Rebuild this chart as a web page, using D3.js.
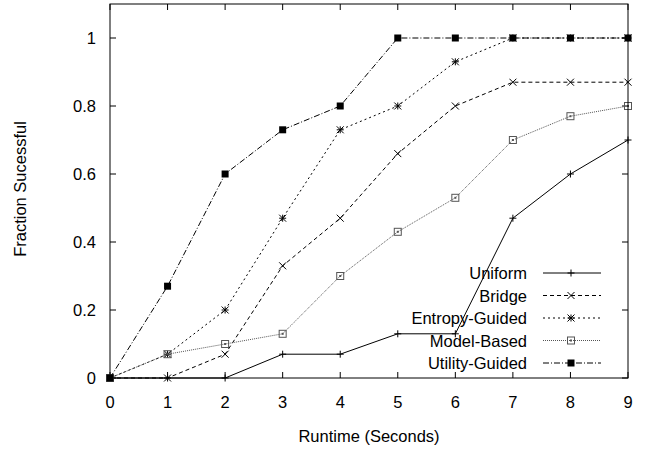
<!DOCTYPE html>
<html><head><meta charset="utf-8">
<script src="https://cdn.jsdelivr.net/npm/d3@7"></script>
<style>body{margin:0;background:#fff}svg{display:block}text{font-family:"Liberation Sans",Arial,sans-serif;fill:#000}</style>
</head><body><svg id="c" width="645" height="450"></svg>
<script>
const xValues = [0,1,2,3,4,5,6,7,8,9];
const seriesNames = ["Uniform","Bridge","Entropy-Guided","Model-Based","Utility-Guided"];
const uniform = [0,0,0,0.07,0.07,0.13,0.13,0.47,0.6,0.7];
const bridge = [0,0,0.07,0.33,0.47,0.66,0.8,0.87,0.87,0.87];
const entropy = [0,0.07,0.2,0.47,0.73,0.8,0.93,1,1,1];
const modelBased = [0,0.07,0.1,0.13,0.3,0.43,0.53,0.7,0.77,0.8];
const utility = [0,0.27,0.6,0.73,0.8,1,1,1,1,1];
const yTicks = [0,0.2,0.4,0.6,0.8,1];
const xTicks = [0,1,2,3,4,5,6,7,8,9];

const svg = d3.select("#c");
const L=110,R=628,T=4,B=378;
const x = d3.scaleLinear().domain([0,9]).range([L,R]);
const y = d3.scaleLinear().domain([0,1.1]).range([B,T]);
const FS = 16.5;

const styles = [
  {data:uniform, dash:null, color:"#000", marker:"plus"},
  {data:bridge, dash:"4,3", color:"#000", marker:"cross"},
  {data:entropy, dash:"2,3", color:"#000", marker:"star"},
  {data:modelBased, dash:"1,1", color:"#555", marker:"open"},
  {data:utility, dash:"6,2,1,2", color:"#000", marker:"filled"}
];

const g = svg.append("g");
xTicks.forEach(t=>{
  g.append("line").attr("x1",x(t)).attr("x2",x(t)).attr("y1",B).attr("y2",B-6).attr("stroke","#000");
  g.append("line").attr("x1",x(t)).attr("x2",x(t)).attr("y1",T).attr("y2",T+6).attr("stroke","#000");
  g.append("text").attr("x",x(t)).attr("y",B+30).attr("text-anchor","middle").attr("font-size",FS).text(t);
});
yTicks.forEach(t=>{
  g.append("line").attr("x1",L).attr("x2",L+6).attr("y1",y(t)).attr("y2",y(t)).attr("stroke","#000");
  g.append("line").attr("x1",R).attr("x2",R-6).attr("y1",y(t)).attr("y2",y(t)).attr("stroke","#000");
  g.append("text").attr("x",L-14).attr("y",y(t)+6).attr("text-anchor","end").attr("font-size",FS).text(t);
});

function drawMarker(sel, type, cx, cy, color){
  const s=3.5;
  if(type==="plus"){
    sel.append("path").attr("d",`M${cx-s},${cy}H${cx+s}M${cx},${cy-s}V${cy+s}`).attr("stroke",color).attr("fill","none");
  } else if(type==="cross"){
    sel.append("path").attr("d",`M${cx-s},${cy-s}L${cx+s},${cy+s}M${cx-s},${cy+s}L${cx+s},${cy-s}`).attr("stroke",color).attr("fill","none");
  } else if(type==="star"){
    sel.append("path").attr("d",`M${cx-s},${cy}H${cx+s}M${cx},${cy-s}V${cy+s}M${cx-s},${cy-s}L${cx+s},${cy+s}M${cx-s},${cy+s}L${cx+s},${cy-s}`).attr("stroke",color).attr("fill","none");
  } else if(type==="open"){
    sel.append("rect").attr("x",cx-s).attr("y",cy-s).attr("width",2*s).attr("height",2*s).attr("stroke",color).attr("fill","none");
    sel.append("rect").attr("x",cx-1).attr("y",cy-1).attr("width",2).attr("height",2).attr("fill",color);
  } else {
    sel.append("rect").attr("x",cx-s).attr("y",cy-s).attr("width",2*s).attr("height",2*s).attr("fill",color);
  }
}

const line = d3.line().x((d,i)=>x(xValues[i])).y(d=>y(d));
styles.forEach(st=>{
  const p = svg.append("path").attr("d",line(st.data)).attr("fill","none").attr("stroke",st.color).attr("stroke-width",1);
  if(st.dash) p.attr("stroke-dasharray",st.dash);
  st.data.forEach((v,i)=>drawMarker(svg, st.marker, x(xValues[i]), y(v), st.color));
});

const legY0 = 273, legDY = 22.5;
styles.forEach((st,i)=>{
  const ly = legY0 + i*legDY;
  svg.append("text").attr("x",527).attr("y",ly+6).attr("text-anchor","end").attr("font-size",FS).text(seriesNames[i]);
  const p = svg.append("line").attr("x1",543).attr("x2",601).attr("y1",ly).attr("y2",ly).attr("stroke",st.color);
  if(st.dash) p.attr("stroke-dasharray",st.dash);
  drawMarker(svg, st.marker, 571, ly, st.color);
});

svg.append("rect").attr("x",L).attr("y",T).attr("width",R-L).attr("height",B-T).attr("fill","none").attr("stroke","#000");

svg.append("text").attr("x",369).attr("y",442).attr("text-anchor","middle").attr("font-size",FS).text("Runtime (Seconds)");
svg.append("text").attr("transform","translate(26,189) rotate(-90)").attr("text-anchor","middle").attr("font-size",FS).text("Fraction Sucessful");
</script></body></html>
